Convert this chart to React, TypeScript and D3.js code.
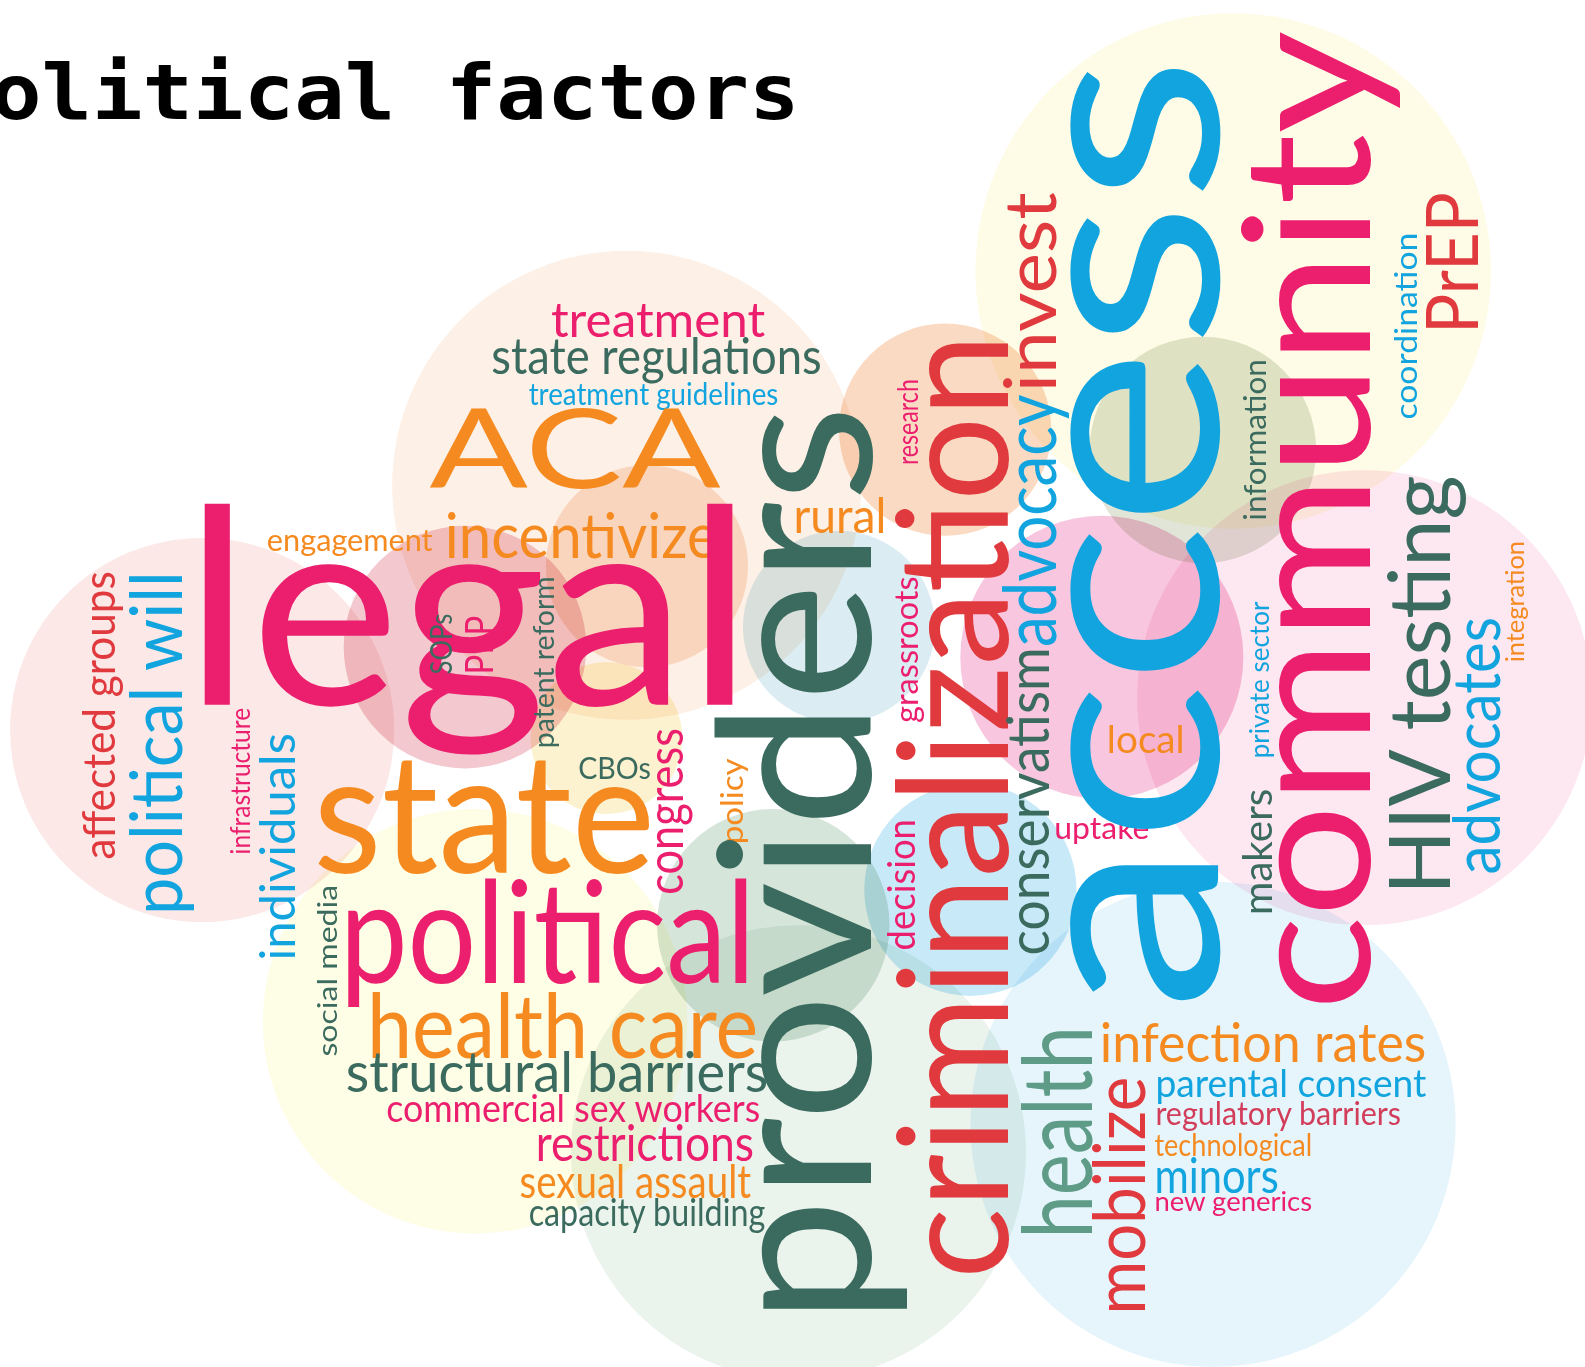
import * as d3 from "d3";

// reference was read at 1568x1352, page is 1585x1367
const W = 1585;
const H = 1367;
const sx = d3.scaleLinear().domain([0, 1568]).range([0, W]);
const sy = d3.scaleLinear().domain([0, 1352]).range([0, H]);

const palette: Record<string, string> = {
  pink: "#ec1f6e",
  orange: "#f58a20",
  teal: "#3b6b5e",
  cyan: "#12a4df",
  red: "#e03a3e",
  sage: "#5f9c88",
  rose: "#d23d5a",
};

// background bubbles: cx, cy, r, colour
const bubbles: [number, number, number, string][] = [
  [620, 480, 232, "#fdf0e6"],
  [1220, 268, 255, "#fefbe6"],
  [200, 722, 190, "#fbe8e7"],
  [1350, 690, 225, "#fde7f1"],
  [1200, 1112, 240, "#e6f5fc"],
  [470, 1010, 210, "#fefde6"],
  [790, 1140, 225, "#ebf3ed"],
  [935, 425, 105, "#fbdac3"],
  [640, 560, 100, "#fbe3d2"],
  [460, 640, 120, "#f3c8cf"],
  [830, 620, 95, "#dbedf3"],
  [600, 730, 75, "#fdf2cf"],
  [1090, 650, 140, "#f8c6de"],
  [1190, 445, 112, "#e0e5d8"],
  [960, 880, 105, "#c8e9f8"],
  [765, 915, 115, "#d6e5da"],
];

// horizontal words: text, colour, left x, baseline y, font size, length
const flatWords: [string, string, number, number, number, number][] = [
  ["treatment", "pink", 545, 333, 48, 212],
  ["state regulations", "teal", 486, 370, 50, 327],
  ["treatment guidelines", "cyan", 523, 401, 31, 247],
  ["ACA", "orange", 425, 483, 109, 288],
  ["engagement", "orange", 264, 545, 31, 164],
  ["incentivize", "orange", 440, 552, 62, 270],
  ["legal", "pink", 182, 697, 270, 563],
  ["rural", "orange", 785, 527, 48, 92],
  ["state", "orange", 310, 863, 165, 338],
  ["CBOs", "teal", 572, 770, 31, 72],
  ["political", "pink", 336, 972, 140, 411],
  ["health care", "orange", 363, 1046, 88, 387],
  ["structural barriers", "teal", 342, 1080, 55, 418],
  ["commercial sex workers", "pink", 382, 1110, 38, 370],
  ["restrictions", "pink", 530, 1148, 50, 216],
  ["sexual assault", "orange", 514, 1185, 46, 229],
  ["capacity building", "teal", 523, 1213, 38, 234],
  ["local", "orange", 1095, 745, 38, 77],
  ["uptake", "pink", 1043, 830, 31, 94],
  ["infection rates", "orange", 1088, 1050, 53, 323],
  ["parental consent", "cyan", 1143, 1085, 38, 268],
  ["regulatory barriers", "rose", 1143, 1113, 33, 243],
  ["technological", "orange", 1142, 1143, 31, 156],
  ["minors", "cyan", 1142, 1180, 48, 123],
  ["new generics", "pink", 1142, 1198, 27, 156],
];

// vertical words (read bottom to top): text, colour, baseline x, bottom y, font size, length
const upWords: [string, string, number, number, number, number][] = [
  ["affected groups", "red", 114, 850, 44, 285],
  ["political will", "cyan", 180, 905, 70, 340],
  ["infrastructure", "pink", 247, 845, 27, 145],
  ["individuals", "cyan", 292, 950, 48, 225],
  ["social media", "teal", 333, 1045, 27, 170],
  ["SOPs", "teal", 447, 667, 30, 60],
  ["PEP", "pink", 488, 667, 38, 58],
  ["patent reform", "teal", 548, 740, 29, 170],
  ["congress", "pink", 676, 885, 50, 165],
  ["policy", "orange", 735, 835, 31, 85],
  ["providers", "teal", 862, 1310, 210, 910],
  ["decision", "pink", 905, 940, 38, 130],
  ["grassroots", "pink", 908, 715, 33, 145],
  ["research", "pink", 908, 460, 29, 85],
  ["criminalization", "red", 997, 1265, 152, 935],
  ["conservatism", "teal", 1038, 945, 57, 305],
  ["advocacy", "cyan", 1045, 640, 72, 250],
  ["invest", "red", 1045, 388, 70, 198],
  ["health", "sage", 1080, 1225, 95, 210],
  ["mobilize", "red", 1133, 1300, 70, 235],
  ["access", "cyan", 1205, 1000, 284, 945],
  ["information", "teal", 1252, 515, 30, 160],
  ["makers", "teal", 1258, 905, 40, 125],
  ["private sector", "cyan", 1255, 750, 27, 155],
  ["community", "pink", 1355, 1000, 174, 970],
  ["HIV testing", "teal", 1434, 885, 84, 415],
  ["advocates", "cyan", 1484, 865, 66, 255],
  ["integration", "orange", 1508, 655, 25, 120],
  ["coordination", "cyan", 1402, 415, 31, 185],
  ["PrEP", "red", 1462, 330, 70, 140],
];

const titleText = "Political factors";

const FONT = "Lato, 'Open Sans', sans-serif";

export default function App() {
  return (
    <svg
      width={W}
      height={H}
      style={{ position: "absolute", left: 0, top: 0, display: "block", background: "#fff" }}
    >
      <g>
        {bubbles.map(([cx, cy, r, c], i) => (
          <circle
            key={i}
            cx={sx(cx)}
            cy={sy(cy)}
            r={sx(r)}
            fill={c}
            style={{ mixBlendMode: "multiply" }}
          />
        ))}
      </g>
      <text
        x={sx(-59)}
        y={sy(118)}
        fontFamily="'DejaVu Sans Mono', monospace"
        fontWeight="bold"
        fontSize={sx(76)}
        textLength={sx(850)}
        lengthAdjust="spacingAndGlyphs"
        fill="#000"
      >
        {titleText}
      </text>
      <g fontFamily={FONT}>
        {flatWords.map(([t, c, x, y, fs, len]) => (
          <text
            key={t}
            x={sx(x)}
            y={sy(y)}
            fontSize={sx(fs)}
            fill={palette[c]}
            textLength={sx(len)}
            lengthAdjust="spacingAndGlyphs"
          >
            {t}
          </text>
        ))}
        {upWords.map(([t, c, x, y, fs, len]) => (
          <text
            key={t}
            transform={`translate(${sx(x)},${sy(y)}) rotate(-90)`}
            fontSize={sx(fs)}
            fill={palette[c]}
            textLength={sx(len)}
            lengthAdjust="spacingAndGlyphs"
          >
            {t}
          </text>
        ))}
      </g>
    </svg>
  );
}
